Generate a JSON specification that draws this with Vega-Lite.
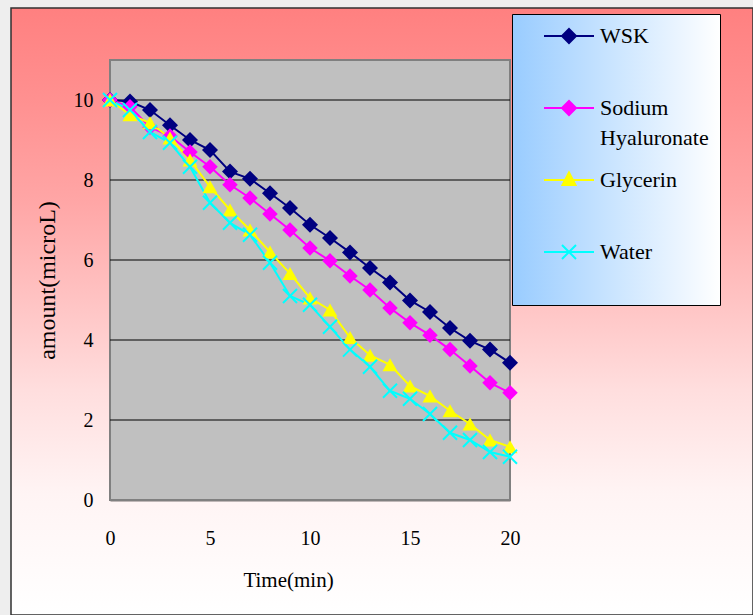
{
  "$schema": "https://vega.github.io/schema/vega-lite/v6.json",
  "width": 742,
  "height": 607,
  "padding": {"left": 11, "top": 8, "right": 0, "bottom": 0},
  "autosize": {"type": "none"},
  "background": "#EEEEEE",
  "config": {
    "font": "Liberation Serif",
    "view": {
      "fill": {"gradient": "linear", "x1": 0, "y1": 0, "x2": 0, "y2": 1,
        "stops": [
          {"offset": 0, "color": "#FF8080"},
          {"offset": 0.15, "color": "#FF9090"},
          {"offset": 0.32, "color": "#FFA6A6"},
          {"offset": 0.63, "color": "#FFDEDE"},
          {"offset": 0.8, "color": "#FFF4F4"},
          {"offset": 1, "color": "#FFFFFF"}
        ]},
      "stroke": "#303030",
      "strokeWidth": 1.5
    }
  },
  "datasets": {
    "grid": [{"g": 2}, {"g": 4}, {"g": 6}, {"g": 8}, {"g": 10}],
    "frame": [{"x0": 0, "x1": 20, "y0": 0, "y1": 11}],
    "obs": [
      {"t": 0, "s": "WSK", "v": 10}, {"t": 1, "s": "WSK", "v": 9.96}, {"t": 2, "s": "WSK", "v": 9.75}, {"t": 3, "s": "WSK", "v": 9.37}, {"t": 4, "s": "WSK", "v": 9.0}, {"t": 5, "s": "WSK", "v": 8.75}, {"t": 6, "s": "WSK", "v": 8.21}, {"t": 7, "s": "WSK", "v": 8.03}, {"t": 8, "s": "WSK", "v": 7.67}, {"t": 9, "s": "WSK", "v": 7.3}, {"t": 10, "s": "WSK", "v": 6.88}, {"t": 11, "s": "WSK", "v": 6.55}, {"t": 12, "s": "WSK", "v": 6.19}, {"t": 13, "s": "WSK", "v": 5.8}, {"t": 14, "s": "WSK", "v": 5.44}, {"t": 15, "s": "WSK", "v": 4.99}, {"t": 16, "s": "WSK", "v": 4.7}, {"t": 17, "s": "WSK", "v": 4.3}, {"t": 18, "s": "WSK", "v": 3.98}, {"t": 19, "s": "WSK", "v": 3.76}, {"t": 20, "s": "WSK", "v": 3.43},
      {"t": 0, "s": "Sodium Hyaluronate", "v": 10}, {"t": 1, "s": "Sodium Hyaluronate", "v": 9.83}, {"t": 2, "s": "Sodium Hyaluronate", "v": 9.32}, {"t": 3, "s": "Sodium Hyaluronate", "v": 9.1}, {"t": 4, "s": "Sodium Hyaluronate", "v": 8.7}, {"t": 5, "s": "Sodium Hyaluronate", "v": 8.33}, {"t": 6, "s": "Sodium Hyaluronate", "v": 7.88}, {"t": 7, "s": "Sodium Hyaluronate", "v": 7.55}, {"t": 8, "s": "Sodium Hyaluronate", "v": 7.15}, {"t": 9, "s": "Sodium Hyaluronate", "v": 6.75}, {"t": 10, "s": "Sodium Hyaluronate", "v": 6.3}, {"t": 11, "s": "Sodium Hyaluronate", "v": 5.98}, {"t": 12, "s": "Sodium Hyaluronate", "v": 5.6}, {"t": 13, "s": "Sodium Hyaluronate", "v": 5.25}, {"t": 14, "s": "Sodium Hyaluronate", "v": 4.8}, {"t": 15, "s": "Sodium Hyaluronate", "v": 4.43}, {"t": 16, "s": "Sodium Hyaluronate", "v": 4.12}, {"t": 17, "s": "Sodium Hyaluronate", "v": 3.76}, {"t": 18, "s": "Sodium Hyaluronate", "v": 3.35}, {"t": 19, "s": "Sodium Hyaluronate", "v": 2.93}, {"t": 20, "s": "Sodium Hyaluronate", "v": 2.68},
      {"t": 0, "s": "Glycerin", "v": 10}, {"t": 1, "s": "Glycerin", "v": 9.63}, {"t": 2, "s": "Glycerin", "v": 9.43}, {"t": 3, "s": "Glycerin", "v": 9.05}, {"t": 4, "s": "Glycerin", "v": 8.5}, {"t": 5, "s": "Glycerin", "v": 7.83}, {"t": 6, "s": "Glycerin", "v": 7.25}, {"t": 7, "s": "Glycerin", "v": 6.75}, {"t": 8, "s": "Glycerin", "v": 6.2}, {"t": 9, "s": "Glycerin", "v": 5.66}, {"t": 10, "s": "Glycerin", "v": 5.05}, {"t": 11, "s": "Glycerin", "v": 4.75}, {"t": 12, "s": "Glycerin", "v": 4.06}, {"t": 13, "s": "Glycerin", "v": 3.62}, {"t": 14, "s": "Glycerin", "v": 3.38}, {"t": 15, "s": "Glycerin", "v": 2.85}, {"t": 16, "s": "Glycerin", "v": 2.6}, {"t": 17, "s": "Glycerin", "v": 2.23}, {"t": 18, "s": "Glycerin", "v": 1.9}, {"t": 19, "s": "Glycerin", "v": 1.5}, {"t": 20, "s": "Glycerin", "v": 1.33},
      {"t": 0, "s": "Water", "v": 10}, {"t": 1, "s": "Water", "v": 9.75}, {"t": 2, "s": "Water", "v": 9.2}, {"t": 3, "s": "Water", "v": 8.93}, {"t": 4, "s": "Water", "v": 8.33}, {"t": 5, "s": "Water", "v": 7.43}, {"t": 6, "s": "Water", "v": 6.93}, {"t": 7, "s": "Water", "v": 6.63}, {"t": 8, "s": "Water", "v": 5.93}, {"t": 9, "s": "Water", "v": 5.1}, {"t": 10, "s": "Water", "v": 4.88}, {"t": 11, "s": "Water", "v": 4.33}, {"t": 12, "s": "Water", "v": 3.76}, {"t": 13, "s": "Water", "v": 3.33}, {"t": 14, "s": "Water", "v": 2.73}, {"t": 15, "s": "Water", "v": 2.53}, {"t": 16, "s": "Water", "v": 2.15}, {"t": 17, "s": "Water", "v": 1.68}, {"t": 18, "s": "Water", "v": 1.5}, {"t": 19, "s": "Water", "v": 1.2}, {"t": 20, "s": "Water", "v": 1.08}
    ]
  },
  "layer": [
    {
      "data": {"name": "frame"},
      "mark": {"type": "rect", "fill": "#C0C0C0", "stroke": "#808080", "strokeWidth": 2},
      "encoding": {
        "x": {"field": "x0", "type": "quantitative", "scale": {"domain": [0, 20], "range": [99, 499]},
          "axis": {"orient": "bottom", "offset": -115, "values": [0, 5, 10, 15, 20], "format": "d", "grid": false, "labelFlush": false, "labelOverlap": false,
            "domainColor": "#000000", "domainWidth": 1.5, "ticks": true, "tickSize": -6, "tickColor": "#000000", "tickWidth": 1,
            "labelFontSize": 20, "labelColor": "#000000", "labelPadding": 34, "labelFont": "Liberation Serif",
            "title": "Time(min)", "titleFont": "Liberation Serif", "titleFontSize": 21, "titleFontWeight": "normal", "titleColor": "#000000",
            "titleX": 277, "titleY": 80, "titleAlign": "center", "titleBaseline": "middle"}},
        "x2": {"field": "x1"},
        "y": {"field": "y0", "type": "quantitative", "scale": {"domain": [0, 11], "range": [492, 52]},
          "axis": {"orient": "left", "offset": -99, "values": [0, 2, 4, 6, 8, 10], "format": "d", "grid": false, "labelFlush": false, "labelOverlap": false,
            "domainColor": "#000000", "domainWidth": 1.5, "ticks": false,
            "labelFontSize": 20, "labelColor": "#000000", "labelPadding": 17, "labelFont": "Liberation Serif",
            "title": "amount(microL)", "titleFont": "Liberation Serif", "titleFontSize": 24, "titleFontWeight": "normal", "titleColor": "#000000",
            "titleX": -63, "titleY": 272, "titleAngle": -90, "titleAlign": "center", "titleBaseline": "middle"}},
        "y2": {"field": "y1"}
      }
    },
    {
      "data": {"name": "grid"},
      "mark": {"type": "rule", "color": "#000000", "strokeWidth": 1},
      "encoding": {
        "y": {"field": "g", "type": "quantitative", "scale": {"domain": [0, 11], "range": [492, 52]}},
        "x": {"datum": 0, "type": "quantitative", "scale": {"domain": [0, 20], "range": [99, 499]}},
        "x2": {"datum": 20}
      }
    },
    {
      "data": {"name": "obs"},
      "mark": {"type": "line", "strokeWidth": 2},
      "encoding": {
        "x": {"field": "t", "type": "quantitative", "scale": {"domain": [0, 20], "range": [99, 499]}},
        "y": {"field": "v", "type": "quantitative", "scale": {"domain": [0, 11], "range": [492, 52]}},
        "color": {"field": "s", "type": "nominal",
          "scale": {"domain": ["WSK", "Sodium Hyaluronate", "Glycerin", "Water"], "range": ["#000080", "#FF00FF", "#FFFF00", "#00FFFF"]},
          "legend": {"orient": "none", "legendX": 501, "legendY": 6,
            "title": "\u2003\u2003\u2003\u2003\u2003\u2003\u2003\u2003\u2003\u2003\u2009",
            "titleOrient": "bottom", "titleFontSize": 20, "titlePadding": 11, "titleFont": "Liberation Serif", "titleLimit": 400,
            "strokeColor": "#000000", "padding": 11,
            "symbolSize": 100, "symbolStrokeWidth": 2, "symbolOffset": 35, "symbolType": "M-5,0H5",
            "labelFont": "Liberation Serif", "labelFontSize": 22, "labelColor": "#000000", "labelOffset": 20, "labelLimit": 300,
            "labelExpr": "datum.label == 'Sodium Hyaluronate' ? ['Sodium', 'Hyaluronate'] : datum.label",
            "gridAlign": "all", "rowPadding": 19,
            "encoding": {
              "legend": {"fill": {"value": {"gradient": "linear", "x1": 0, "y1": 0, "x2": 1, "y2": 0, "stops": [{"offset": 0, "color": "#99CCFF"}, {"offset": 1, "color": "#FFFFFF"}]}}},
              "symbols": {
                "shape": {"value": {"expr": "datum.value == 'Water' ? 'M-5,0H5M-1.4,-1.4L1.4,1.4M-1.4,1.4L1.4,-1.4' : datum.value == 'Glycerin' ? 'M-5,0H5M0,-1.5L1.3,1L-1.3,1Z' : 'M-5,0H5M0,-1.4L1.4,0L0,1.4L-1.4,0Z'"}},
                "fill": {"value": {"expr": "scale('color', datum.value)"}}
              },
              "labels": {"lineHeight": {"value": 30}}
            }
          }}
      }
    },
    {
      "data": {"name": "obs"},
      "transform": [{"filter": "datum.s != 'Water'"}],
      "mark": {"type": "point", "filled": true, "opacity": 1},
      "encoding": {
        "x": {"field": "t", "type": "quantitative", "scale": {"domain": [0, 20], "range": [99, 499]}},
        "y": {"field": "v", "type": "quantitative", "scale": {"domain": [0, 11], "range": [492, 52]}},
        "fill": {"field": "s", "type": "nominal", "legend": null,
          "scale": {"domain": ["WSK", "Sodium Hyaluronate", "Glycerin"], "range": ["#000080", "#FF00FF", "#FFFF00"]}},
        "shape": {"field": "s", "type": "nominal", "legend": null,
          "scale": {"domain": ["WSK", "Sodium Hyaluronate", "Glycerin"], "range": ["diamond", "diamond", "triangle-up"]}},
        "size": {"field": "s", "type": "nominal", "legend": null,
          "scale": {"domain": ["WSK", "Sodium Hyaluronate", "Glycerin"], "range": [256, 225, 170]}}
      }
    },
    {
      "data": {"name": "obs"},
      "transform": [{"filter": "datum.s == 'Water'"}],
      "mark": {"type": "point", "filled": false, "shape": "M-1,-1L1,1M-1,1L1,-1", "size": 196, "stroke": "#00FFFF", "strokeWidth": 2, "opacity": 1},
      "encoding": {
        "x": {"field": "t", "type": "quantitative", "scale": {"domain": [0, 20], "range": [99, 499]}},
        "y": {"field": "v", "type": "quantitative", "scale": {"domain": [0, 11], "range": [492, 52]}}
      }
    }
  ]
}
